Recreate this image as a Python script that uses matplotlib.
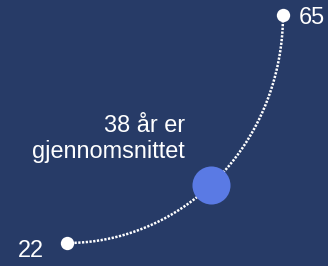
import numpy as np
import matplotlib
matplotlib.use("Agg")
import matplotlib.pyplot as plt

# Data
ages = [22, 38, 65]            # youngest, average, oldest
age_labels = ["22", "38", "65"]
mean_label = "38 år er\ngjennomsnittet"

# Layout / style constants
BG = "#273b67"
BLUE = "#5a7ae4"
W, H = 328, 266
cx, cy, a, b = 67, 15, 216, 228      # arc geometry (pixel-like data units)
mean_arc_fraction = 0.463            # where the average sits along the arc

plt.rcParams['font.family'] = ['Liberation Sans', 'DejaVu Sans']

fig = plt.figure(figsize=(W / 100, H / 100), dpi=100)
fig.patch.set_facecolor(BG)
ax = fig.add_axes([0, 0, 1, 1])
ax.set_facecolor(BG)
ax.set_xlim(0, W)
ax.set_ylim(H, 0)
ax.axis('off')

def arc_point(frac):
    t = frac * np.pi / 2
    return cx + a * np.sin(t), cy + b * np.cos(t)

t = np.linspace(0, 1, 400)
xs, ys = arc_point(t)
ax.plot(xs, ys, color='white', lw=1.8, dashes=(0.9, 0.6),
        dash_capstyle='butt', zorder=1)

# endpoints
x0, y0 = arc_point(0.0)
x1, y1 = arc_point(1.0)
ax.plot([x0, x1], [y0, y1], 'o', color='white', ms=9.6, mec='none', zorder=3)

# average marker
xm, ym = arc_point(mean_arc_fraction)
ax.plot([xm], [ym], 'o', color=BLUE, ms=27.4, mec='none', zorder=3)

fs = 16.9
ax.text(x0 - 23, y0 + 14, age_labels[0], color='white', fontsize=fs,
        ha='right', va='baseline')
ax.text(x1 + 16, y1 + 9, age_labels[2], color='white', fontsize=fs,
        ha='left', va='baseline')
ax.text(185, 132, mean_label.split("\n")[0], color='white', fontsize=fs,
        ha='right', va='baseline')
ax.text(185, 158, mean_label.split("\n")[1], color='white', fontsize=fs,
        ha='right', va='baseline')

fig.savefig("out.png", dpi=100, facecolor=BG)
